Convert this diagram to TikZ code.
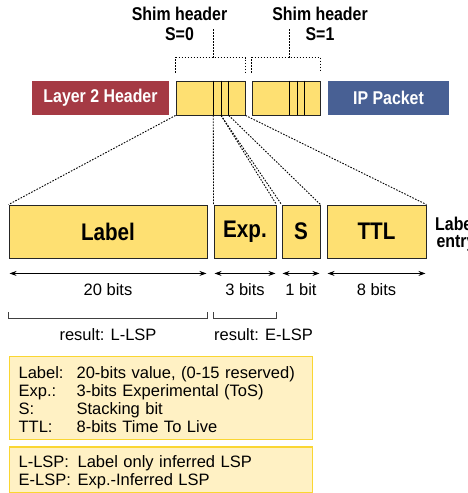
\documentclass[tikz,border=0pt]{standalone}
\usepackage{fontspec}
\setmainfont{Liberation Sans}
\newfontfamily\condbold{Liberation Sans Bold}[FakeStretch=0.86]
\usetikzlibrary{positioning, arrows.meta}
\definecolor{shimyellow}{RGB}{254,224,114}
\definecolor{layerred}{RGB}{165,58,68}
\definecolor{ipblue}{RGB}{72,96,148}
\definecolor{notefill}{RGB}{255,241,196}
\definecolor{noteline}{RGB}{250,214,50}

\begin{document}
\begin{tikzpicture}[x=1pt, y=1pt,
    field/.style={draw=black!85, line width=0.9pt, fill=shimyellow, inner sep=0pt},
    packet/.style={inner sep=0pt, minimum height=34pt, text=white, font=\condbold\fontsize{18.5}{20}\selectfont},
    bigtxt/.style={font=\condbold\fontsize{24}{26}\selectfont},
    title/.style={align=center, inner sep=0pt, font=\condbold\fontsize{18.5}{20}\selectfont},
    dotline/.style={dash pattern=on 1.6pt off 1.4pt, line width=0.9pt},
    bits/.style={font=\fontsize{16.5}{18}\selectfont},
    bracket/.style={draw=black!75, line width=1.1pt},
    note/.style={draw=noteline, line width=1.2pt, fill=notefill, anchor=north west, inner xsep=9pt, inner ysep=5pt, text width=285pt, align=left, font=\fontsize{16.5}{18}\selectfont},
    >={Stealth[length=7pt, width=5pt]}]
        \useasboundingbox (0,0) rectangle (468,493);

        % packet row
        \node[packet, fill=layerred, minimum width=137pt] (l2) at (100.5,395) {Layer 2 Header};
        \node[field, minimum width=69pt, minimum height=34pt] (shim0) at (210.5,395) {};
        \node[field, minimum width=68pt, minimum height=34pt] (shim1) at (286,395) {};
        \node[packet, fill=ipblue, minimum width=121pt] (ip) at (388.5,395) {IP Packet};

        % fields inside the shim headers
        \foreach \sh in {0,1}
            \foreach \off/\k in {37.7/a, 45.5/b, 53.2/c}
                \draw[line width=0.9pt] ([xshift=\off pt]shim\sh.north west) -- ([xshift=\off pt]shim\sh.south west) coordinate (shim\sh\k);

        % shim header titles
        \node[title] (title0) at (179.5,469) {Shim header\\S=0};
        \node[title] (title1) at (320,469) {Shim header\\S=1};
        \foreach \sh in {0,1} {
            \draw[dotline] ([yshift=8pt]shim\sh.north west) -- ++(0,15) -| ([yshift=8pt]shim\sh.north east);
            \draw[dotline] ([xshift=37.7pt, yshift=23pt]shim\sh.north west) -- ++(0,29);
        }

        % label entry
        \node[field, bigtxt, minimum width=198pt, minimum height=53pt] (label) at (108,261.5) {Label};
        \node[field, bigtxt, minimum width=62pt, minimum height=53pt] (exp) at (245,261.5) {Exp.};
        \node[field, bigtxt, minimum width=38pt, minimum height=53pt] (sbit) at (301,261.5) {S};
        \node[field, bigtxt, minimum width=99pt, minimum height=53pt] (ttl) at (376.5,261.5) {TTL};
        \node[title, anchor=north west, font=\condbold\fontsize{18.5}{17}\selectfont] (entry) at (435,276) {Label\\entry};

        % zoom lines
        \draw[dotline] (shim0.south west) -- (label.north west);
        \draw[dotline] (shim0a) -- (exp.north west);
        \draw[dotline] (shim0b) -- (exp.north east);
        \draw[dotline] (shim0b) -- (sbit.north west);
        \draw[dotline] (shim0c) -- (sbit.north east);
        \draw[dotline] (shim0.south east) -- (ttl.north east);

        % sizes
        \foreach \f/\w in {label/20 bits, exp/3 bits, sbit/1 bit, ttl/8 bits}
            \draw[<->, line width=0.8pt] ([xshift=1pt, yshift=-15pt]\f.south west) -- ([xshift=-1pt, yshift=-15pt]\f.south east) node[bits, midway, below=6.5pt] (size\f) {\w};

        % results
        \draw[bracket] ([yshift=-54pt]label.south west) -- ([yshift=-60pt]label.south west) -- ([yshift=-60pt]label.south east) node[bits, midway, below=6.5pt] (reslabel) {result: L-LSP} -- ([yshift=-54pt]label.south east);
        \draw[bracket] ([yshift=-54pt]exp.south west) -- ([yshift=-60pt]exp.south west) node[bits, anchor=north west, inner xsep=0pt, below right=6.5pt and 0pt] (resexp) {result: E-LSP} -- ([yshift=-60pt]exp.south east) -- ([yshift=-54pt]exp.south east);

        % legends
        \node[note, minimum height=83pt] (legend) at (9,137) {\raisebox{-3.7pt}[\height][\depth]{\begin{tabular}{@{}p{58pt}@{}l@{}}
            Label: & 20-bits value, (0-15 reserved)\\
            Exp.: & 3-bits Experimental (ToS)\\
            S: & Stacking bit\\
            TTL: & 8-bits Time To Live
        \end{tabular}}};
        \node[note, minimum height=45.8pt] (lsps) at (9,46.5) {\raisebox{-3pt}[\height][\depth]{\begin{tabular}{@{}p{59pt}@{}l@{}}
            L-LSP: & Label only inferred LSP\\
            E-LSP: & Exp.-Inferred LSP
        \end{tabular}}};
\end{tikzpicture}
\end{document}
